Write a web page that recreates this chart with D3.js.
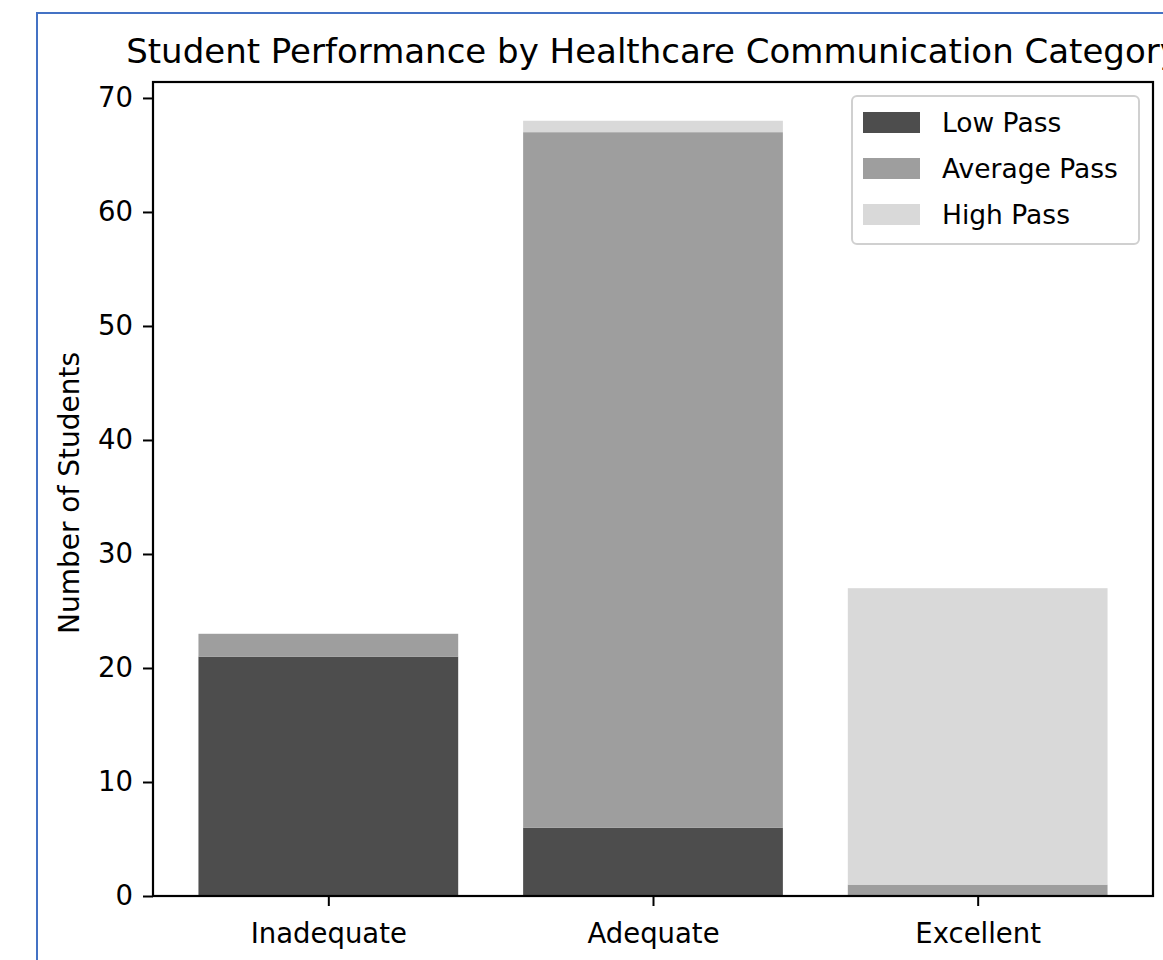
<!DOCTYPE html>
<html>
<head>
<meta charset="utf-8">
<script src="https://cdn.jsdelivr.net/npm/d3@7"></script>
<style>
  body { margin: 0; background: #fff; }
  text { font-family: "DejaVu Sans", sans-serif; fill: #000; }
</style>
</head>
<body>
<div class="canvas"></div>
<script>
// data
const categories = ['Inadequate', 'Adequate', 'Excellent'];
const seriesNames = ['Low Pass', 'Average Pass', 'High Pass'];
const lowPass = [21, 6, 0];
const averagePass = [2, 61, 1];
const highPass = [0, 1, 26];
const yTicks = [0, 10, 20, 30, 40, 50, 60, 70];
const colors = ['#4d4d4d', '#9e9e9e', '#d9d9d9'];

const svg = d3.select('.canvas')
  .append('svg')
  .attr('width', 1163)
  .attr('height', 960);

// blue frame around the figure
svg.append('rect')
  .attr('x', 37).attr('y', 13)
  .attr('width', 1200).attr('height', 1000)
  .attr('fill', 'none')
  .attr('stroke', '#4472c4')
  .attr('stroke-width', 2);

const margin = { top: 82, left: 153 };
const graphWidth = 1153 - margin.left;
const graphHeight = 896 - margin.top;

const graph = svg.append('g')
  .attr('transform', `translate(${margin.left},${margin.top})`);

// stack data
const table = categories.map((c, i) => ({
  cat: c, i: i,
  'Low Pass': lowPass[i], 'Average Pass': averagePass[i], 'High Pass': highPass[i]
}));
const stacked = d3.stack().keys(seriesNames)(table);
const maxTotal = d3.max(table, d => lowPass[d.i] + averagePass[d.i] + highPass[d.i]);

// scales (matplotlib style 5% margins)
const y = d3.scaleLinear()
  .domain([0, maxTotal * 1.05])
  .range([graphHeight, 0]);

const xNum = d3.scaleLinear()
  .domain([-0.54, categories.length - 1 + 0.54])
  .range([0, graphWidth]);
const barW = xNum(0.8) - xNum(0);

// bars
graph.selectAll('g.layer')
  .data(stacked)
  .enter()
  .append('g')
  .attr('class', 'layer')
  .attr('fill', (d, i) => colors[i])
  .selectAll('rect')
  .data(d => d)
  .enter()
  .append('rect')
  .attr('x', d => xNum(d.data.i) - barW / 2)
  .attr('width', barW)
  .attr('y', d => y(d[1]))
  .attr('height', d => y(d[0]) - y(d[1]));

// axes
const yAxis = d3.axisLeft(y).tickValues(yTicks).tickSize(10).tickPadding(10);
const xAxis = d3.axisBottom(xNum).tickValues(categories.map((c, i) => i))
  .tickFormat(i => categories[i]).tickSize(10).tickPadding(17);

const yAxisGroup = graph.append('g').call(yAxis);
const xAxisGroup = graph.append('g')
  .attr('transform', `translate(0,${graphHeight})`)
  .call(xAxis);

[yAxisGroup, xAxisGroup].forEach(g => {
  g.select('.domain').remove();
  g.selectAll('line').attr('stroke', '#000').attr('stroke-width', 2);
  g.selectAll('text').attr('font-size', 27.5).attr('font-family', 'DejaVu Sans').attr('fill', '#000');
});

// frame
graph.append('rect')
  .attr('width', graphWidth)
  .attr('height', graphHeight)
  .attr('fill', 'none')
  .attr('stroke', '#000')
  .attr('stroke-width', 2.2);

// title + y label
svg.append('text')
  .attr('x', margin.left + graphWidth / 2)
  .attr('y', 63)
  .attr('text-anchor', 'middle')
  .attr('font-size', 34)
  .text('Student Performance by Healthcare Communication Category');

svg.append('text')
  .attr('transform', `translate(79,${margin.top + graphHeight / 2 + 4}) rotate(-90)`)
  .attr('text-anchor', 'middle')
  .attr('font-size', 28)
  .text('Number of Students');

// legend
const legend = svg.append('g').attr('transform', 'translate(852,96)');
legend.append('rect')
  .attr('width', 287).attr('height', 148)
  .attr('rx', 5)
  .attr('fill', '#fff')
  .attr('fill-opacity', 0.8)
  .attr('stroke', '#d0d0d0')
  .attr('stroke-width', 2);

const items = legend.selectAll('g.item')
  .data(seriesNames)
  .enter()
  .append('g')
  .attr('class', 'item')
  .attr('transform', (d, i) => `translate(11,${16 + i * 46})`);

items.append('rect')
  .attr('width', 57).attr('height', 21)
  .attr('fill', (d, i) => colors[i]);

items.append('text')
  .attr('x', 79)
  .attr('y', 20)
  .attr('font-size', 26.5)
  .text(d => d);
</script>
</body>
</html>
